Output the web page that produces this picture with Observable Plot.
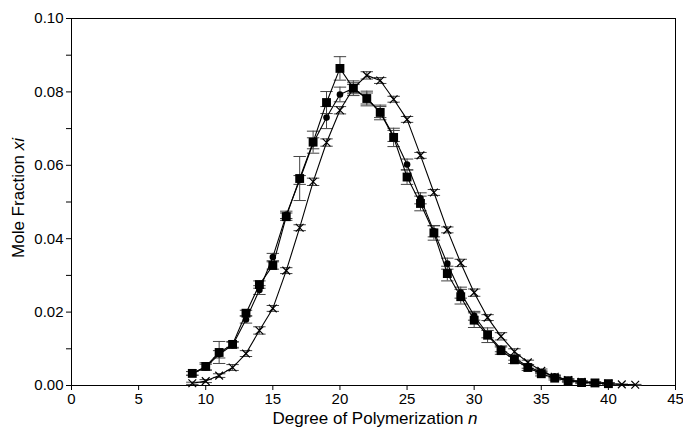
<!DOCTYPE html>
<html><head><meta charset="utf-8">
<script src="https://cdn.jsdelivr.net/npm/d3@7"></script>
<script src="https://cdn.jsdelivr.net/npm/@observablehq/plot@0.6"></script>
<style>
body{margin:0;background:#fff;font-family:"Liberation Sans",Arial,sans-serif;}
</style></head><body><div id="chart"></div>
<script>
const nSq = [9,10,11,12,13,14,15,16,17,18,19,20,21,22,23,24,25,26,27,28,29,30,31,32,33,34,35,36,37,38,39,40];
const sqVal = [0.0033,0.0052,0.0090,0.0112,0.0197,0.0275,0.0327,0.0460,0.0564,0.0663,0.0771,0.0864,0.0810,0.0782,0.0744,0.0676,0.0568,0.0496,0.0416,0.0305,0.0242,0.0178,0.0137,0.0095,0.0070,0.0049,0.0032,0.0020,0.0013,0.0008,0.0007,0.0005];
const sqErr = [0.0005,0.0010,0.0030,0.0008,0.0008,0.0010,0.0010,0.0010,0.0060,0.0030,0.0030,0.0032,0.0020,0.0020,0.0020,0.0025,0.0020,0.0020,0.0020,0.0020,0.0020,0.0020,0.0020,0.0010,0.0010,0.0008,0.0006,0.0005,0.0004,0.0003,0.0003,0.0003];
const nCi = nSq;
const ciVal = [0.0033,0.0050,0.0085,0.0110,0.0180,0.0260,0.0350,0.0465,0.0560,0.0660,0.0730,0.0793,0.0810,0.0782,0.0745,0.0680,0.0602,0.0510,0.0420,0.0332,0.0253,0.0190,0.0140,0.0100,0.0075,0.0052,0.0036,0.0025,0.0015,0.0010,0.0008,0.0006];
const ciErr = [0.0005,0.0008,0.0010,0.0008,0.0010,0.0012,0.0010,0.0010,0.0012,0.0015,0.0030,0.0020,0.0015,0.0015,0.0015,0.0015,0.0015,0.0015,0.0015,0.0015,0.0015,0.0012,0.0010,0.0008,0.0006,0.0005,0.0004,0.0003,0.0003,0.0002,0.0002,0.0002];
const nX = [9,10,11,12,13,14,15,16,17,18,19,20,21,22,23,24,25,26,27,28,29,30,31,32,33,34,35,36,37,38,39,40,41,42];
const xVal = [0.0006,0.0012,0.0027,0.0049,0.0087,0.0150,0.0210,0.0313,0.0430,0.0555,0.0662,0.0750,0.0810,0.0845,0.0831,0.0780,0.0725,0.0627,0.0526,0.0424,0.0334,0.0253,0.0185,0.0134,0.0092,0.0063,0.0040,0.0024,0.0015,0.0010,0.0007,0.0005,0.0003,0.0002];
const xErr = [0.0003,0.0004,0.0005,0.0008,0.0008,0.0010,0.0008,0.0008,0.0008,0.0010,0.0010,0.0010,0.0010,0.0010,0.0008,0.0008,0.0008,0.0008,0.0008,0.0008,0.0010,0.0010,0.0008,0.0010,0.0008,0.0006,0.0005,0.0004,0.0003,0.0003,0.0002,0.0002,0.0001,0.0001];
const xTicks = [0,5,10,15,20,25,30,35,40,45];
const yTicksMajor = [0,0.02,0.04,0.06,0.08,0.10];
const yTicksMinor = [0.01,0.03,0.05,0.07,0.09];

const mk = (ns, vs, es, s) => ns.map((n,i)=>({n, v:vs[i], lo:vs[i]-es[i], hi:vs[i]+es[i], s}));
const sq = mk(nSq, sqVal, sqErr, "sq");
const ci = mk(nCi, ciVal, ciErr, "ci");
const xs = mk(nX, xVal, xErr, "x");
const all = [...sq, ...ci, ...xs];

const cap = {draw(ctx, size){const r=Math.sqrt(size); ctx.moveTo(-r,0); ctx.lineTo(r,0);}};

const W=683, H=431;
const plot = Plot.plot({
  width: W, height: H,
  marginLeft: 71, marginRight: 8, marginTop: 18, marginBottom: 46,
  style: {fontFamily: '"Liberation Sans", Arial, sans-serif', fontSize: "15px", color:"#000", background:"#fff"},
  x: {domain:[0,45], label:null},
  y: {domain:[0,0.10], label:null},
  marks: [
    Plot.frame({stroke:"#000", strokeWidth:1}),
    Plot.axisX({ticks: xTicks, tickSize: 5, tickPadding: 3, label:null, fontSize:15, tickFormat: d=>String(d)}),
    Plot.axisY({ticks: yTicksMajor, tickSize: 5, tickPadding: 3, label:null, fontSize:15, tickFormat: d3.format(".2f")}),
    Plot.axisY({ticks: yTicksMinor, tickSize: 5, label:null, tickFormat: () => ""}),
    Plot.ruleX(all, {x:"n", y1:"lo", y2:"hi", stroke:"#444", strokeWidth:1}),
    Plot.dot(all, {x:"n", y:"hi", symbol: cap, r: 3.5, stroke:"#444", strokeWidth:1}),
    Plot.dot(all, {x:"n", y:"lo", symbol: cap, r: 3.5, stroke:"#444", strokeWidth:1}),
    Plot.line(sq, {x:"n", y:"v", stroke:"#000", strokeWidth:1.1}),
    Plot.line(ci, {x:"n", y:"v", stroke:"#000", strokeWidth:1.1}),
    Plot.line(xs, {x:"n", y:"v", stroke:"#000", strokeWidth:1.1}),
    Plot.dot(sq, {x:"n", y:"v", symbol:"square", r:5, fill:"#000"}),
    Plot.dot(ci, {x:"n", y:"v", symbol:"circle", r:3.3, fill:"#000"}),
    Plot.dot(xs, {x:"n", y:"v", symbol:"times", r:3.6, stroke:"#000", strokeWidth:1.2})
  ]
});
document.getElementById("chart").appendChild(plot);
const svg = d3.select(plot);
const xl = svg.append("text").attr("x", 375).attr("y", 424).attr("text-anchor","middle")
  .style("font-size","17px").attr("fill","#000");
xl.append("tspan").text("Degree of Polymerization ");
xl.append("tspan").style("font-style","italic").text("n");
const yl = svg.append("text").attr("transform","translate(24,198) rotate(-90)").attr("text-anchor","middle")
  .style("font-size","17px").attr("fill","#000");
yl.append("tspan").text("Mole Fraction ");
yl.append("tspan").style("font-style","italic").text("xi");
</script></body></html>
